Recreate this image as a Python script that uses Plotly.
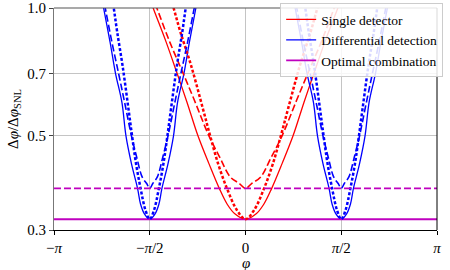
import math
import plotly.graph_objects as go

# ---- data (phase in rad, value = Δφ/Δφ_SNL) ----
red_solid_phi = [-1.7, -1.515, -1.3, -1.12, -0.96, -0.78, -0.6, -0.43, -0.3, -0.17, 0,
                 0.17, 0.3, 0.43, 0.6, 0.78, 0.96, 1.12, 1.3, 1.515, 1.7]
red_solid_val = [1.18, 1.0, 0.83, 0.70, 0.60, 0.50, 0.43, 0.376, 0.345, 0.327, 0.318,
                 0.327, 0.345, 0.376, 0.43, 0.50, 0.60, 0.70, 0.83, 1.0, 1.18]

red_dash_phi = [-1.6, -1.455, -1.24, -1.02, -0.84, -0.6, -0.415, -0.25, -0.1, 0,
                0.1, 0.25, 0.415, 0.6, 0.84, 1.02, 1.24, 1.455, 1.6]
red_dash_val = [1.13, 1.0, 0.83, 0.70, 0.607, 0.50, 0.443, 0.40, 0.386, 0.376,
                0.386, 0.40, 0.443, 0.50, 0.607, 0.70, 0.83, 1.0, 1.13]

red_dot_phi = [-1.3, -1.18, -1.07, -0.89, -0.7, -0.58, -0.45, -0.305, -0.14, 0,
               0.14, 0.305, 0.45, 0.58, 0.7, 0.89, 1.07, 1.18, 1.3]
red_dot_val = [1.14, 1.0, 0.88, 0.73, 0.58, 0.50, 0.43, 0.376, 0.334, 0.318,
               0.334, 0.376, 0.43, 0.50, 0.58, 0.73, 0.88, 1.0, 1.14]

blue_solid_phi = [-2.421, -2.328, -2.221, -2.131, -2.028, -1.961, -1.871, -1.771, -1.721, -1.656, -1.571,
                  -1.486, -1.421, -1.371, -1.271, -1.181, -1.114, -1.011, -0.921, -0.814, -0.721,
                  None,
                  0.721, 0.814, 0.921, 1.011, 1.114, 1.181, 1.271, 1.371, 1.421, 1.486, 1.571,
                  1.656, 1.721, 1.771, 1.871, 1.961, 2.028, 2.131, 2.221, 2.328, 2.421]
blue_solid_val = [1.18, 1.0, 0.83, 0.70, 0.60, 0.50, 0.43, 0.376, 0.345, 0.327, 0.318,
                  0.327, 0.345, 0.376, 0.43, 0.50, 0.60, 0.70, 0.83, 1.0, 1.18,
                  None,
                  1.18, 1.0, 0.83, 0.70, 0.60, 0.50, 0.43, 0.376, 0.345, 0.327, 0.318,
                  0.327, 0.345, 0.376, 0.43, 0.50, 0.60, 0.70, 0.83, 1.0, 1.18]

blue_dash_phi = [-2.371, -2.301, -2.191, -2.081, -1.991, -1.871, -1.781, -1.696, -1.621, -1.571,
                 -1.521, -1.446, -1.361, -1.271, -1.151, -1.061, -0.951, -0.841, -0.771,
                 None,
                 0.771, 0.841, 0.951, 1.061, 1.151, 1.271, 1.361, 1.446, 1.521, 1.571,
                 1.621, 1.696, 1.781, 1.871, 1.991, 2.081, 2.191, 2.301, 2.371]
blue_dash_val = [1.13, 1.0, 0.83, 0.70, 0.607, 0.50, 0.443, 0.40, 0.386, 0.376,
                 0.386, 0.40, 0.443, 0.50, 0.607, 0.70, 0.83, 1.0, 1.13,
                 None,
                 1.13, 1.0, 0.83, 0.70, 0.607, 0.50, 0.443, 0.40, 0.386, 0.376,
                 0.386, 0.40, 0.443, 0.50, 0.607, 0.70, 0.83, 1.0, 1.13]

blue_dot_phi = [-2.221, -2.161, -2.106, -2.016, -1.921, -1.861, -1.796, -1.721, -1.641, -1.571,
                -1.501, -1.421, -1.346, -1.281, -1.221, -1.126, -1.036, -0.981, -0.921,
                None,
                0.921, 0.981, 1.036, 1.126, 1.221, 1.281, 1.346, 1.421, 1.501, 1.571,
                1.641, 1.721, 1.796, 1.861, 1.921, 2.016, 2.106, 2.161, 2.221]
blue_dot_val = [1.14, 1.0, 0.88, 0.73, 0.58, 0.50, 0.43, 0.376, 0.334, 0.318,
                0.334, 0.376, 0.43, 0.50, 0.58, 0.73, 0.88, 1.0, 1.14,
                None,
                1.14, 1.0, 0.88, 0.73, 0.58, 0.50, 0.43, 0.376, 0.334, 0.318,
                0.334, 0.376, 0.43, 0.50, 0.58, 0.73, 0.88, 1.0, 1.14]

opt_phi = [-math.pi, math.pi]
opt_solid_val = [0.318, 0.318]
opt_dash_val = [0.376, 0.376]

x_tick_vals = [-math.pi, -math.pi / 2, 0, math.pi / 2, math.pi]
x_tick_text = ["−<i>π</i>", "−<i>π</i>/2", "0", "<i>π</i>/2", "<i>π</i>"]
y_tick_vals = [0.3, 0.5, 0.7, 1.0]
y_tick_text = ["0.3", "0.5", "0.7", "1.0"]

RED = "#ff0000"
BLUE = "#0000ff"
MAG = "#bf00bf"
DASH = "7px,3px"
DOT = "3px,2px"
FONT = "Liberation Serif, DejaVu Serif, Times New Roman, serif"

fig = go.Figure()

def add(x, y, color, width, dash, name=None, legend=False):
    fig.add_trace(go.Scatter(
        x=x, y=y, mode="lines", name=name, showlegend=legend,
        line=dict(color=color, width=width, dash=dash, shape="spline", smoothing=1.0),
        connectgaps=False, hoverinfo="skip"))

add(red_solid_phi, red_solid_val, RED, 1.3, "solid", "Single detector", True)
add(blue_solid_phi, blue_solid_val, BLUE, 1.3, "solid", "Differential detection", True)
add(opt_phi, opt_solid_val, MAG, 1.8, "solid", "Optimal combination", True)
add(red_dash_phi, red_dash_val, RED, 1.6, DASH)
add(red_dot_phi, red_dot_val, RED, 2.5, DOT)
add(blue_dash_phi, blue_dash_val, BLUE, 1.6, DASH)
add(blue_dot_phi, blue_dot_val, BLUE, 2.5, DOT)
add(opt_phi, opt_dash_val, MAG, 1.6, DASH)

fig.update_layout(
    width=450, height=270,
    margin=dict(l=54, r=13, t=8, b=40, autoexpand=False),
    paper_bgcolor="white", plot_bgcolor="white",
    font=dict(family=FONT, size=15, color="black"),
    showlegend=True,
    legend=dict(x=0.5905, y=1.0225, xanchor="left", yanchor="top",
                bgcolor="rgba(255,255,255,0.85)", bordercolor="#cccccc", borderwidth=1,
                font=dict(family=FONT, size=13.5, color="black"),
                tracegroupgap=0, itemwidth=30),
    xaxis=dict(range=[-math.pi, math.pi], tickvals=x_tick_vals, ticktext=x_tick_text,
               showgrid=True, gridcolor="#c4c4c4", gridwidth=0.9, zeroline=False,
               showline=True, linecolor="black", linewidth=1, automargin=False,
               ticks="outside", ticklen=4, tickcolor="black",
               tickfont=dict(family=FONT, size=15)),
    yaxis=dict(type="log", range=[math.log10(0.3), 0.0], tickvals=y_tick_vals, ticktext=y_tick_text,
               showgrid=True, gridcolor="#c4c4c4", gridwidth=0.9, zeroline=False,
               showline=True, linecolor="#777777", linewidth=1, automargin=False,
               ticks="outside", ticklen=4, tickcolor="#444444",
               tickfont=dict(family=FONT, size=15)),
    shapes=[
        dict(type="line", xref="paper", yref="paper", x0=0, x1=1, y0=1, y1=1,
             line=dict(color="#555555", width=1.2)),
        dict(type="line", xref="paper", yref="paper", x0=1, x1=1, y0=0, y1=1,
             line=dict(color="black", width=1)),
    ],
    annotations=[
        dict(text="<i>φ</i>", xref="paper", yref="paper", x=0.5, y=-0.15,
             xanchor="center", yanchor="middle", showarrow=False,
             font=dict(family=FONT, size=15)),
        dict(text="Δ<i>φ</i>/Δ<i>φ</i><sub>SNL</sub>", xref="paper", yref="paper",
             x=-0.1044, y=0.5, xanchor="center", yanchor="middle", textangle=-90,
             showarrow=False, font=dict(family=FONT, size=15)),
    ],
)

fig.write_html("out.html",
               config={"displayModeBar": False},
               post_script="document.body.style.margin='0';document.body.style.padding='0';")
